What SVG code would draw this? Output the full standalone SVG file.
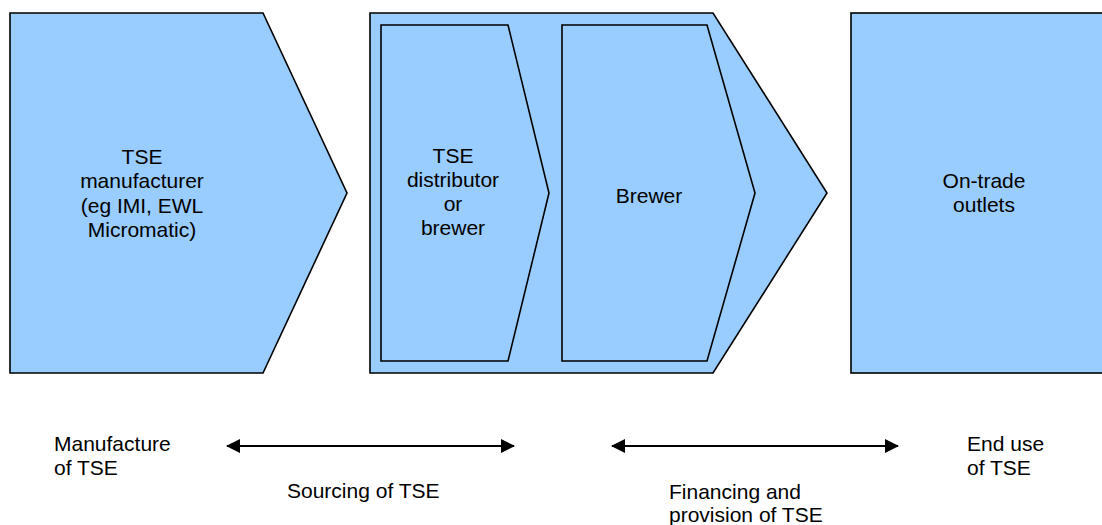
<svg xmlns="http://www.w3.org/2000/svg" width="1102" height="525" viewBox="0 0 1102 525">
  <style>
    .shape { fill: #99ccff; stroke: #000; stroke-width: 1.6; stroke-linejoin: miter; }
    .lbl { font-family: "Liberation Sans", Arial, sans-serif; font-size: 21px; fill: #000; }
    .mid { text-anchor: middle; }
    .conn { stroke: #000; stroke-width: 2; fill: none; }
  </style>
  <defs>
    <marker id="head" viewBox="0 0 14 14" refX="13" refY="7" markerWidth="14" markerHeight="14" markerUnits="userSpaceOnUse" orient="auto-start-reverse">
      <path d="M0,0 L14,7 L0,14 Z" fill="#000"/>
    </marker>
  </defs>
  <rect width="1102" height="525" fill="#fff"/>

  <!-- manufacturer chevron -->
  <g id="manufacturer">
    <polygon class="shape" points="10,13 263,13 347,193 263,373 10,373"/>
    <text class="lbl mid" x="142" y="164">TSE</text>
    <text class="lbl mid" x="142" y="188.3">manufacturer</text>
    <text class="lbl mid" x="142" y="212.5">(eg IMI, EWL</text>
    <text class="lbl mid" x="142" y="236.7">Micromatic)</text>
  </g>

  <!-- sourcing / financing chevron containing two stages -->
  <g id="supply">
    <polygon class="shape" points="370,13 713,13 827,193 713,373 370,373"/>
  </g>
  <g id="distributor">
    <polygon class="shape" points="381,25 508,25 549,193 508,361 381,361"/>
    <text class="lbl mid" x="453" y="162.5">TSE</text>
    <text class="lbl mid" x="453" y="186.5">distributor</text>
    <text class="lbl mid" x="453" y="210.5">or</text>
    <text class="lbl mid" x="453" y="234.5">brewer</text>
  </g>
  <g id="brewer">
    <polygon class="shape" points="562,25 707,25 755,193 707,361 562,361"/>
    <text class="lbl mid" x="649" y="203">Brewer</text>
  </g>

  <!-- on-trade outlets -->
  <g id="outlets">
    <rect class="shape" x="851" y="13" width="270" height="360"/>
    <text class="lbl mid" x="984" y="188">On-trade</text>
    <text class="lbl mid" x="984" y="212">outlets</text>
  </g>

  <!-- stage spans -->
  <g id="connectors">
    <line class="conn" x1="227" y1="446" x2="514" y2="446" marker-start="url(#head)" marker-end="url(#head)"/>
    <line class="conn" x1="612" y1="446" x2="898" y2="446" marker-start="url(#head)" marker-end="url(#head)"/>
  </g>

  <!-- stage labels -->
  <g id="stage-labels">
    <text class="lbl" x="54" y="451">Manufacture</text>
    <text class="lbl" x="54" y="474.5">of TSE</text>
    <text class="lbl" x="287" y="498">Sourcing of TSE</text>
    <text class="lbl" x="669" y="499">Financing and</text>
    <text class="lbl" x="669" y="522">provision of TSE</text>
    <text class="lbl" x="967" y="451">End use</text>
    <text class="lbl" x="967" y="474.5">of TSE</text>
  </g>
</svg>
